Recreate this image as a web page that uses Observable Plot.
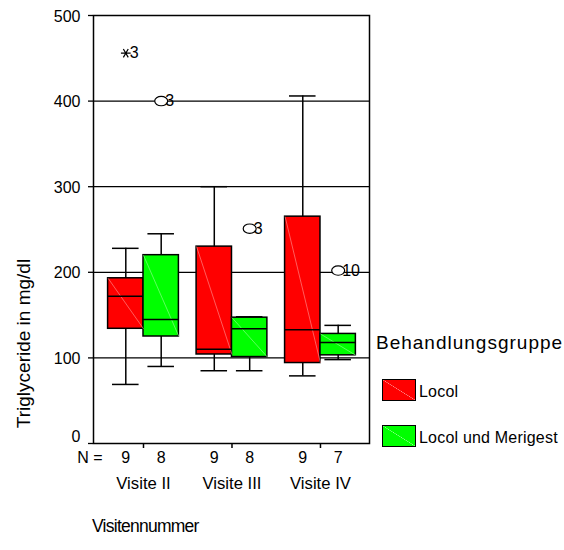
<!DOCTYPE html>
<html>
<head>
<meta charset="utf-8">
<script src="https://cdn.jsdelivr.net/npm/d3@7"></script>
<script src="https://cdn.jsdelivr.net/npm/@observablehq/plot@0.6"></script>
<style>
  html, body { margin: 0; padding: 0; background: #fff; }
  #wrap { position: relative; width: 564px; height: 550px; font-family: "Liberation Sans", Arial, sans-serif; color: #000; }
  #wrap svg { position: absolute; left: 0; top: 0; }
  .abs { position: absolute; white-space: nowrap; line-height: 1; }
  .sw { position: absolute; width: 32px; height: 20px; border: 1.5px solid #000; overflow: hidden; }
</style>
</head>
<body>
<div id="wrap"></div>
<script>
// ---- data ----
const visits = ["Visite II", "Visite III", "Visite IV"];
const groups = ["Locol", "Locol und Merigest"];
const colors = ["#ff0000", "#00ff00"];
const diagColors = ["#ff9a9a", "#9aff9a"];
const counts  = [[9, 8], [9, 8], [9, 7]];
const whiskLo = [[69, 90], [85, 85], [79, 98]];
const q1      = [[134, 125], [104, 101], [94, 103]];
const medians = [[172, 145], [110, 134], [133, 118]];
const q3      = [[193, 220], [230, 147], [265, 128]];
const whiskHi = [[228, 245], [300, 148], [406, 138]];
// outliers: visit index, group index, value, case label, kind
const outVisit = [0, 0, 1, 2];
const outGroup = [0, 1, 1, 1];
const outValue = [456, 400, 251, 202];
const outLabel = ["3", "3", "3", "10"];
const outKind  = ["extreme", "outlier", "outlier", "outlier"];
const yTicks = [0, 100, 200, 300, 400, 500];
const gridValues = [100, 200, 300, 400];
const yTitle = "Triglyceride in mg/dl";
const xTitle = "Visitennummer";
const legendTitle = "Behandlungsgruppe";
const nLabel = "N =";

// ---- derived table ----
const BW = 0.4;
const rows = [];
visits.forEach((v, i) => groups.forEach((g, j) => {
  rows.push({
    visit: v, group: g, i, j,
    x1: i - BW + BW * j, x2: i + BW * j, xc: i - BW / 2 + BW * j,
    lo: whiskLo[i][j], q1: q1[i][j], med: medians[i][j], q3: q3[i][j], hi: whiskHi[i][j],
    n: counts[i][j]
  });
}));
const outs = outValue.map((val, k) => ({
  xc: outVisit[k] - BW / 2 + BW * outGroup[k],
  value: val, label: outLabel[k], kind: outKind[k]
}));
const visitRows = visits.map((v, i) => ({ i, v }));

// ellipse symbol for outliers
const ellipse = {
  draw(ctx, size) {
    const rx = Math.sqrt(size / Math.PI) * 1.2, ry = rx * 0.72, k = 0.5523;
    ctx.moveTo(rx, 0);
    ctx.bezierCurveTo(rx, ry * k, rx * k, ry, 0, ry);
    ctx.bezierCurveTo(-rx * k, ry, -rx, ry * k, -rx, 0);
    ctx.bezierCurveTo(-rx, -ry * k, -rx * k, -ry, 0, -ry);
    ctx.bezierCurveTo(rx * k, -ry, rx, -ry * k, rx, 0);
    ctx.closePath();
  }
};

const chart = Plot.plot({
  width: 564, height: 550,
  marginLeft: 93, marginRight: 195, marginTop: 15, marginBottom: 107,
  style: { fontFamily: "'Liberation Sans', Arial, sans-serif", fontSize: "16px", color: "#000", background: "transparent", overflow: "visible" },
  x: { domain: [-0.565, 2.554], axis: null },
  y: { domain: [0, 500], axis: null },
  color: { domain: groups, range: colors },
  marks: [
    Plot.ruleY(gridValues, { stroke: "#000", strokeWidth: 1.3 }),
    Plot.axisY({ ticks: yTicks, tickSize: 5, tickFormat: () => "", label: null, stroke: "#000", strokeWidth: 1.3 }),
    Plot.axisY({ ticks: yTicks.filter(t => t > 0), tickSize: 0, tickPadding: 13, label: null, fontSize: 16, dy: 1 }),
    Plot.axisY({ ticks: yTicks.filter(t => t === 0), tickSize: 0, tickPadding: 13, label: null, fontSize: 16, dy: -7 }),
    Plot.axisX({ ticks: [0, 1, 2], tickSize: 5, tickFormat: () => "", label: null, stroke: "#000", strokeWidth: 1.5 }),
    Plot.ruleX(rows, { x: "xc", y1: "lo", y2: "hi", stroke: "#000", strokeWidth: 1.5 }),
    Plot.ruleY(rows, { y: "lo", x1: d => d.xc - 0.15, x2: d => d.xc + 0.15, stroke: "#000", strokeWidth: 1.5 }),
    Plot.ruleY(rows, { y: "hi", x1: d => d.xc - 0.15, x2: d => d.xc + 0.15, stroke: "#000", strokeWidth: 1.5 }),
    Plot.rect(rows, { x1: "x1", x2: "x2", y1: "q1", y2: "q3", fill: "group", stroke: "#000", strokeWidth: 1.5 }),
    Plot.link(rows, { x1: "x1", y1: "q3", x2: "x2", y2: "q1", stroke: d => diagColors[d.j], strokeWidth: 0.6 }),
    Plot.ruleY(rows, { y: "med", x1: "x1", x2: "x2", stroke: "#000", strokeWidth: 1.5 }),
    Plot.dot(outs.filter(d => d.kind === "outlier"), { x: "xc", y: "value", symbol: ellipse, r: 5.4, stroke: "#000", fill: "#fff", strokeWidth: 1.2 }),
    Plot.dot(outs.filter(d => d.kind === "extreme"), { x: "xc", y: "value", symbol: "asterisk", rotate: 90, r: 4.6, stroke: "#000", strokeWidth: 1.2 }),
    Plot.text(outs, { x: "xc", y: "value", text: "label", textAnchor: "start", dx: 4, fontSize: 16 }),
    Plot.text(rows, { x: "xc", text: d => String(d.n), frameAnchor: "bottom", dy: 19, fontSize: 16 }),
    Plot.text([nLabel], { frameAnchor: "bottom-left", textAnchor: "end", dx: 9, dy: 19, fontSize: 16 }),
    Plot.text(visitRows, { x: "i", text: "v", frameAnchor: "bottom", dy: 45, fontSize: 16.7 }),
    Plot.frame({ stroke: "#000", strokeWidth: 1.5 })
  ]
});

const wrap = document.getElementById("wrap");
wrap.appendChild(chart);

// y title
const yt = document.createElement("div");
yt.className = "abs";
yt.textContent = yTitle;
yt.style.fontSize = "19px";
wrap.appendChild(yt);
const w = yt.offsetWidth, h = yt.offsetHeight;
yt.style.left = (23 - w / 2) + "px";
yt.style.top = (343 - h / 2) + "px";
yt.style.transform = "rotate(-90deg)";

// x title
const xt = document.createElement("div");
xt.className = "abs";
xt.textContent = xTitle;
xt.style.fontSize = "17.5px";
xt.style.letterSpacing = "-0.75px";
xt.style.left = "92px";
xt.style.top = "518px";
wrap.appendChild(xt);

// legend
const lt = document.createElement("div");
lt.className = "abs";
lt.textContent = legendTitle;
lt.style.fontSize = "19px";
lt.style.letterSpacing = "1px";
lt.style.left = "376px";
lt.style.top = "333px";
wrap.appendChild(lt);
groups.forEach((g, j) => {
  const sw = document.createElement("div");
  sw.className = "sw";
  sw.style.left = "382px";
  sw.style.top = (379 + 46 * j) + "px";
  sw.style.background = `linear-gradient(to top right, ${colors[j]} calc(50% - 0.5px), ${diagColors[j]} 50%, ${colors[j]} calc(50% + 0.5px))`;
  wrap.appendChild(sw);
  const lb = document.createElement("div");
  lb.className = "abs";
  lb.textContent = g;
  lb.style.fontSize = "16px";
  lb.style.letterSpacing = "0.2px";
  lb.style.left = "419px";
  lb.style.top = (384 + 46 * j) + "px";
  wrap.appendChild(lb);
});
</script>
</body>
</html>
